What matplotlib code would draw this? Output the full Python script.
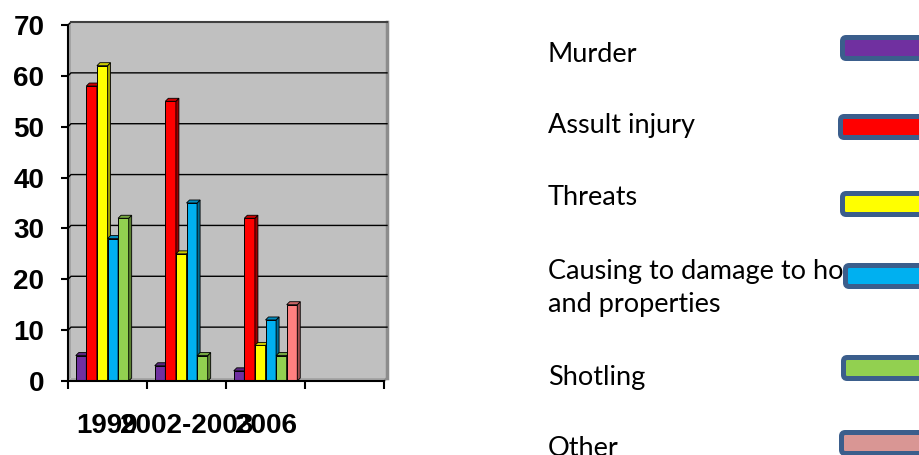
import matplotlib
matplotlib.use("Agg")
import matplotlib.pyplot as plt
from matplotlib.patches import Polygon, FancyBboxPatch
import numpy as np

# data
categories = ['1999', '2002-2003', '2006', '']
murder = [5, 3, 2]
assult = [58, 55, 32]
threats = [62, 25, 7]
damage = [28, 35, 12]
shotling = [32, 5, 5]
other = [0, 0, 15]

series_names = ['Murder', 'Assult injury', 'Threats',
                'Causing to damage to houses\nand properties', 'Shotling', 'Other']
series_values = [murder, assult, threats, damage, shotling, other]
bar_colors = ['#7030A0', '#FF0000', '#FFFF00', '#00B0F0', '#92D050', '#FF8080']
legend_colors = ['#7030A0', '#FF0000', '#FFFF00', '#00B0F0', '#92D050', '#D99694']

W, H = 920, 455
DPI = 100

def shade(c, f):
    rgb = np.array(matplotlib.colors.to_rgb(c))
    return tuple(rgb * f)

fig = plt.figure(figsize=(W / DPI, H / DPI), dpi=DPI)

### plot area in pixels: x 68..384, y 25 (70) .. 381 (0)
ax = fig.add_axes([68 / W, (H - 381) / H, (384 - 68) / W, (381 - 25) / H])
ax.set_xlim(0, 4)
ax.set_ylim(0, 70)
ax.set_facecolor('none')

dx = 3 / 79.0      # 3d depth in x (slot units)
dy = 3 / 5.086     # 3d depth in y (value units)
ymax = 70

### walls
ax.add_patch(Polygon([(dx, dy), (4 + dx, dy), (4 + dx, ymax + dy), (dx, ymax + dy)],
                     closed=True, fc='#C0C0C0', ec='none', zorder=0, clip_on=False))
ax.add_patch(Polygon([(0, 0), (dx, dy), (dx, ymax + dy), (0, ymax)],
                     closed=True, fc='#A4A4A4', ec='none', zorder=0.5, clip_on=False))
ax.add_patch(Polygon([(0, 0), (dx, dy), (4 + dx, dy), (4, 0)],
                     closed=True, fc='#A6A6A6', ec='none', zorder=0.5, clip_on=False))
ax.plot([4 + dx, 4 + dx], [dy, ymax + dy], color='#8C8C8C', lw=2.5, zorder=1, clip_on=False)
ax.plot([4, 4 + dx], [0, dy], color='#8C8C8C', lw=1.5, zorder=1, clip_on=False)

### gridlines on the back wall
for v in range(10, ymax + 1, 10):
    ax.plot([0, dx, 4 + dx], [v, v + dy, v + dy], color='black', lw=1.0,
            zorder=1, clip_on=False)
ax.plot([dx, 4 + dx], [ymax + dy, ymax + dy], color='#404040', lw=1.5, zorder=1, clip_on=False)

### 3d-ish bars
n = len(series_values)
w = 0.134
z = 2
for i in range(3):
    for j in range(n):
        h = series_values[j][i]
        if h <= 0:
            continue
        x0 = i + 0.5 - n / 2 * w + j * w
        c = bar_colors[j]
        ax.bar(x0, h, width=w, align='edge', color=c, edgecolor='black',
               linewidth=0.7, zorder=z)
        ax.add_patch(Polygon([(x0 + w, 0), (x0 + w + dx, dy), (x0 + w + dx, h + dy), (x0 + w, h)],
                             closed=True, fc=shade(c, 0.62), ec='black', lw=0.6,
                             zorder=z, clip_on=False))
        ax.add_patch(Polygon([(x0, h), (x0 + dx, h + dy), (x0 + w + dx, h + dy), (x0 + w, h)],
                             closed=True, fc=shade(c, 0.8), ec='black', lw=0.6,
                             zorder=z, clip_on=False))
        z += 0.01

### axes styling
for s in ['top', 'right']:
    ax.spines[s].set_visible(False)
ax.spines['left'].set_linewidth(1.5)
ax.spines['bottom'].set_linewidth(1.5)
ax.spines['left'].set_zorder(5)
ax.spines['bottom'].set_zorder(5)

ax.set_yticks(range(0, ymax + 1, 10))
ax.set_xticks([0, 1, 2, 3, 4])
ax.set_xticklabels([])
ax.set_xticks([0.5, 1.5, 2.5, 3.5], minor=True)
ax.set_xticklabels(categories, minor=True)
ax.tick_params(axis='x', which='minor', length=0, pad=23)
ax.tick_params(axis='x', which='major', length=6, width=1.5, direction='out')
ax.tick_params(axis='y', length=5, width=1.5, direction='out', pad=12)
for lab in ax.get_yticklabels() + ax.get_xticklabels(minor=True):
    lab.set_fontfamily('Liberation Sans')
    lab.set_fontweight('bold')
    lab.set_fontsize(20)

### legend drawn by hand on the right
text_baselines = [62, 133, 205, 312, 385, 456]   # last line baseline
box_pos = [(840, 35, 61), (838, 114, 140), (840, 191, 217),
           (843, 263, 289), (841, 355, 381), (839, 430, 456)]

def fx(px):
    return px / W

def fy(py):
    return (H - py) / H

for k, name in enumerate(series_names):
    fig.text(fx(548), fy(text_baselines[k]), name, fontsize=19.5, family='Lato',
             va='baseline', ha='left', linespacing=1.4, zorder=3)
    left, top, bottom = box_pos[k]
    lw_px = 5
    bx = left + lw_px / 2
    by_top = top + lw_px / 2
    by_bot = bottom - lw_px / 2
    p = FancyBboxPatch((fx(bx), fy(by_bot)), fx(960 - bx), fy(by_top) - fy(by_bot),
                       boxstyle='round,pad=0,rounding_size=0.004',
                       transform=fig.transFigure, fc=legend_colors[k], ec='#3B5E8C',
                       lw=lw_px * 72 / DPI, zorder=4, mutation_aspect=W / H)
    fig.add_artist(p)

fig.savefig('out.png', dpi=DPI)
